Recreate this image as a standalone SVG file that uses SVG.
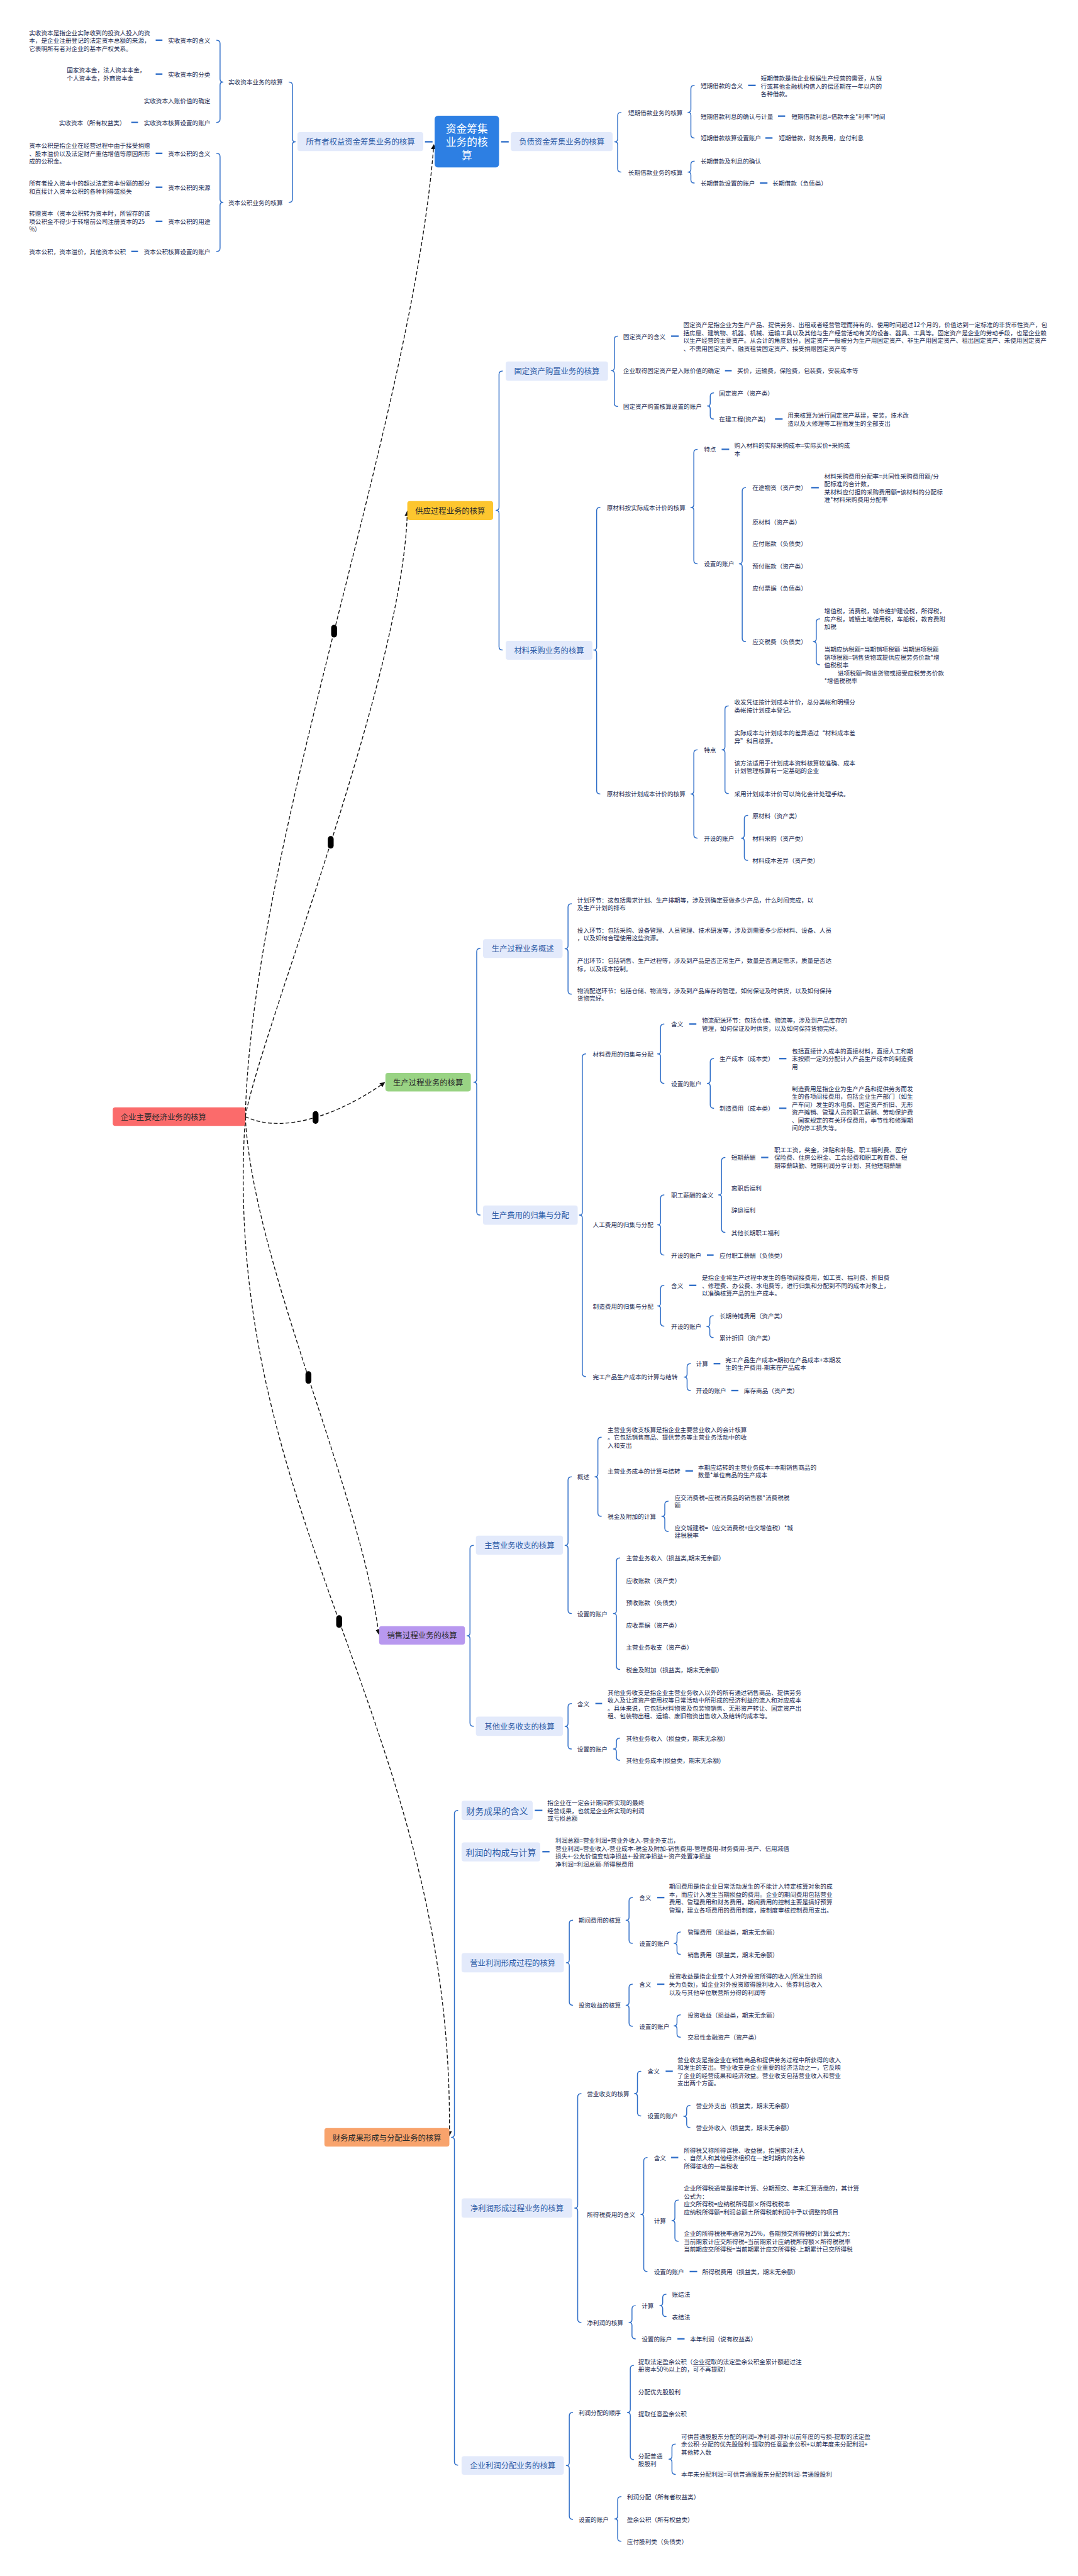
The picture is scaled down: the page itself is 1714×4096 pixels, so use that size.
<svg xmlns="http://www.w3.org/2000/svg" width="1714" height="4096" viewBox="0 0 1714 4096">
<defs>
<style>
text{font-family:"Noto Sans CJK SC","Noto Sans",sans-serif;dominant-baseline:central}
.t{font-size:14.4px;fill:#1c2b52}
.n2{font-size:18.5px;fill:#2c5aa6;text-anchor:middle}
.n2b{font-size:21px;fill:#2c5aa6;text-anchor:middle}
.mn{font-size:18.5px;fill:#2a2a2a;text-anchor:middle}
.wt{font-size:25px;fill:#ffffff;text-anchor:middle}
.bx{fill:#e3eafb}
.br{fill:none;stroke:#2f6ec8;stroke-width:2.2;stroke-linecap:round;stroke-linejoin:round}
.ds{stroke:#2f6ec8;stroke-width:3.5}
.dl{fill:none;stroke:#111;stroke-width:2;stroke-dasharray:9 5}
.pl{fill:#000}
</style>
<marker id="ar" viewBox="0 0 10 10" refX="9" refY="5" markerWidth="6" markerHeight="6" orient="auto" markerUnits="strokeWidth"><path d="M0,0 L10,5 L0,10 z" fill="#111"/></marker>
</defs>
<rect x="0" y="0" width="1714" height="4096" fill="#ffffff"/>
<g transform="scale(0.669)">

<g id="connectors">
<path class="dl" d="M583,2654 C600,2000 980,1000 1031,344" marker-end="url(#ar)"/>
<path class="dl" d="M583,2654 C620,2450 960,1600 968,1215" marker-end="url(#ar)"/>
<path class="dl" d="M583,2654 C680,2700 820,2640 914,2573" marker-end="url(#ar)"/>
<path class="dl" d="M583,2654 C600,3000 860,3550 900,3884" marker-end="url(#ar)"/>
<path class="dl" d="M583,2654 C520,3600 1080,4100 1068,5076" marker-end="url(#ar)"/>
<rect class="pl" x="787" y="1485" width="14" height="30" rx="7"/>
<rect class="pl" x="779" y="1987" width="14" height="30" rx="7"/>
<rect class="pl" x="743" y="2641" width="14" height="30" rx="7"/>
<rect class="pl" x="726" y="3259" width="14" height="30" rx="7"/>
<rect class="pl" x="799" y="3839" width="14" height="30" rx="7"/>

<path class="br" d="M687,195 Q695,195 695,203 V330 Q695,337 702,337 Q695,337 695,344 V473 Q695,481 687,481"/>
<path class="br" d="M515,95.5 Q523,95.5 523,103.5 V188 Q523,195 530,195 Q523,195 523,202 V283 Q523,291 515,291"/>
<path class="br" d="M515,364.5 Q523,364.5 523,372.5 V474 Q523,481 530,481 Q523,481 523,488 V589.6 Q523,597.6 515,597.6"/>
<path class="br" d="M1476,267 Q1468,267 1468,275 V330 Q1468,337 1461,337 Q1468,337 1468,344 V401 Q1468,409 1476,409"/>
<path class="br" d="M1650,203 Q1642,203 1642,211 V260 Q1642,267 1635,267 Q1642,267 1642,274 V320 Q1642,328 1650,328"/>
<path class="br" d="M1650,383 Q1642,383 1642,391 V402 Q1642,409 1635,409 Q1642,409 1642,416 V427 Q1642,435 1650,435"/>
<path class="br" d="M1194,882 Q1186,882 1186,890 V1206 Q1186,1213 1179,1213 Q1186,1213 1186,1220 V1537 Q1186,1545 1194,1545"/>
<path class="br" d="M1468,799 Q1460,799 1460,807 V874 Q1460,881 1453,881 Q1460,881 1460,888 V958 Q1460,966 1468,966"/>
<path class="br" d="M1696,934 Q1688,934 1688,942 V958 Q1688,965 1681,965 Q1688,965 1688,972 V988 Q1688,996 1696,996"/>
<path class="br" d="M1426,1206 Q1418,1206 1418,1214 V1538 Q1418,1545 1411,1545 Q1418,1545 1418,1552 V1879 Q1418,1887 1426,1887"/>
<path class="br" d="M1657,1068 Q1649,1068 1649,1076 V1199 Q1649,1206 1642,1206 Q1649,1206 1649,1213 V1332 Q1649,1340 1657,1340"/>
<path class="br" d="M1772,1159 Q1764,1159 1764,1167 V1333 Q1764,1340 1757,1340 Q1764,1340 1764,1347 V1517 Q1764,1525 1772,1525"/>
<path class="br" d="M1948,1471 Q1940,1471 1940,1479 V1518 Q1940,1525 1933,1525 Q1940,1525 1940,1532 V1572 Q1940,1580 1948,1580"/>
<path class="br" d="M1657,1782 Q1649,1782 1649,1790 V1880 Q1649,1887 1642,1887 Q1649,1887 1649,1894 V1984 Q1649,1992 1657,1992"/>
<path class="br" d="M1731,1678 Q1723,1678 1723,1686 V1775 Q1723,1782 1716,1782 Q1723,1782 1723,1789 V1878 Q1723,1886 1731,1886"/>
<path class="br" d="M1777,1938 Q1769,1938 1769,1946 V1985 Q1769,1992 1762,1992 Q1769,1992 1769,1999 V2037 Q1769,2045 1777,2045"/>
<path class="br" d="M1141,2254 Q1133,2254 1133,2262 V2565 Q1133,2572 1126,2572 Q1133,2572 1133,2579 V2880 Q1133,2888 1141,2888"/>
<path class="br" d="M1358,2148 Q1350,2148 1350,2156 V2248 Q1350,2255 1343,2255 Q1350,2255 1350,2262 V2355 Q1350,2363 1358,2363"/>
<path class="br" d="M1392,2505 Q1384,2505 1384,2513 V2881 Q1384,2888 1377,2888 Q1384,2888 1384,2895 V3264 Q1384,3272 1392,3272"/>
<path class="br" d="M1578,2434 Q1570,2434 1570,2442 V2498 Q1570,2505 1563,2505 Q1570,2505 1570,2512 V2567 Q1570,2575 1578,2575"/>
<path class="br" d="M1696,2516 Q1688,2516 1688,2524 V2568 Q1688,2575 1681,2575 Q1688,2575 1688,2582 V2626 Q1688,2634 1696,2634"/>
<path class="br" d="M1578,2840 Q1570,2840 1570,2848 V2904 Q1570,2911 1563,2911 Q1570,2911 1570,2918 V2975 Q1570,2983 1578,2983"/>
<path class="br" d="M1723,2751 Q1715,2751 1715,2759 V2833 Q1715,2840 1708,2840 Q1715,2840 1715,2847 V2921 Q1715,2929 1723,2929"/>
<path class="br" d="M1578,3055 Q1570,3055 1570,3063 V3097 Q1570,3104 1563,3104 Q1570,3104 1570,3111 V3144 Q1570,3152 1578,3152"/>
<path class="br" d="M1695,3127 Q1687,3127 1687,3135 V3146 Q1687,3153 1680,3153 Q1687,3153 1687,3160 V3171 Q1687,3179 1695,3179"/>
<path class="br" d="M1641,3241 Q1633,3241 1633,3249 V3266 Q1633,3273 1626,3273 Q1633,3273 1633,3280 V3297 Q1633,3305 1641,3305"/>
<path class="br" d="M1125,3673 Q1117,3673 1117,3681 V3881 Q1117,3888 1110,3888 Q1117,3888 1117,3895 V4095 Q1117,4103 1125,4103"/>
<path class="br" d="M1358,3510 Q1350,3510 1350,3518 V3666 Q1350,3673 1343,3673 Q1350,3673 1350,3680 V3827 Q1350,3835 1358,3835"/>
<path class="br" d="M1429,3416 Q1421,3416 1421,3424 V3503 Q1421,3510 1414,3510 Q1421,3510 1421,3517 V3596 Q1421,3604 1429,3604"/>
<path class="br" d="M1588,3568 Q1580,3568 1580,3576 V3597 Q1580,3604 1573,3604 Q1580,3604 1580,3611 V3632 Q1580,3640 1588,3640"/>
<path class="br" d="M1473,3703 Q1465,3703 1465,3711 V3828 Q1465,3835 1458,3835 Q1465,3835 1465,3842 V3960 Q1465,3968 1473,3968"/>
<path class="br" d="M1358,4049 Q1350,4049 1350,4057 V4096 Q1350,4103 1343,4103 Q1350,4103 1350,4110 V4149 Q1350,4157 1358,4157"/>
<path class="br" d="M1473,4131 Q1465,4131 1465,4139 V4150 Q1465,4157 1458,4157 Q1465,4157 1465,4164 V4176 Q1465,4184 1473,4184"/>
<path class="br" d="M1088,4303 Q1080,4303 1080,4311 V5073 Q1080,5080 1073,5080 Q1080,5080 1080,5087 V5851 Q1080,5859 1088,5859"/>
<path class="br" d="M1361,4564 Q1353,4564 1353,4572 V4658 Q1353,4665 1346,4665 Q1353,4665 1353,4672 V4758 Q1353,4766 1361,4766"/>
<path class="br" d="M1503,4510 Q1495,4510 1495,4518 V4557 Q1495,4564 1488,4564 Q1495,4564 1495,4571 V4611 Q1495,4619 1503,4619"/>
<path class="br" d="M1617,4592 Q1609,4592 1609,4600 V4612 Q1609,4619 1602,4619 Q1609,4619 1609,4626 V4637 Q1609,4645 1617,4645"/>
<path class="br" d="M1503,4716 Q1495,4716 1495,4724 V4759 Q1495,4766 1488,4766 Q1495,4766 1495,4773 V4808 Q1495,4816 1503,4816"/>
<path class="br" d="M1617,4789 Q1609,4789 1609,4797 V4808 Q1609,4815 1602,4815 Q1609,4815 1609,4822 V4834 Q1609,4842 1617,4842"/>
<path class="br" d="M1381,4976 Q1373,4976 1373,4984 V5241 Q1373,5248 1366,5248 Q1373,5248 1373,5255 V5512 Q1373,5520 1381,5520"/>
<path class="br" d="M1523,4923 Q1515,4923 1515,4931 V4969 Q1515,4976 1508,4976 Q1515,4976 1515,4983 V5021 Q1515,5029 1523,5029"/>
<path class="br" d="M1640,5004 Q1632,5004 1632,5012 V5023 Q1632,5030 1625,5030 Q1632,5030 1632,5037 V5049 Q1632,5057 1640,5057"/>
<path class="br" d="M1538,5128 Q1530,5128 1530,5136 V5256 Q1530,5263 1523,5263 Q1530,5263 1530,5270 V5391 Q1530,5399 1538,5399"/>
<path class="br" d="M1612,5229 Q1604,5229 1604,5237 V5271 Q1604,5278 1597,5278 Q1604,5278 1604,5285 V5319 Q1604,5327 1612,5327"/>
<path class="br" d="M1510,5480 Q1502,5480 1502,5488 V5513 Q1502,5520 1495,5520 Q1502,5520 1502,5527 V5551 Q1502,5559 1510,5559"/>
<path class="br" d="M1583,5453 Q1575,5453 1575,5461 V5473 Q1575,5480 1568,5480 Q1575,5480 1575,5487 V5498 Q1575,5506 1583,5506"/>
<path class="br" d="M1361,5734 Q1353,5734 1353,5742 V5853 Q1353,5860 1346,5860 Q1353,5860 1353,5867 V5980 Q1353,5988 1361,5988"/>
<path class="br" d="M1506,5622 Q1498,5622 1498,5630 V5727 Q1498,5734 1491,5734 Q1498,5734 1498,5741 V5838 Q1498,5846 1506,5846"/>
<path class="br" d="M1605,5809 Q1597,5809 1597,5817 V5838 Q1597,5845 1590,5845 Q1597,5845 1597,5852 V5873 Q1597,5881 1605,5881"/>
<path class="br" d="M1476,5934 Q1468,5934 1468,5942 V5980 Q1468,5987 1461,5987 Q1468,5987 1468,5994 V6032 Q1468,6040 1476,6040"/>

<line class="ds" x1="1010" y1="337" x2="1028" y2="337"/>
<line class="ds" x1="1191" y1="337" x2="1209" y2="337"/>
<line class="ds" x1="370" y1="95.5" x2="386" y2="95.5"/>
<line class="ds" x1="370" y1="176" x2="386" y2="176"/>
<line class="ds" x1="312" y1="291" x2="328" y2="291"/>
<line class="ds" x1="370" y1="364.5" x2="386" y2="364.5"/>
<line class="ds" x1="370" y1="445" x2="386" y2="445"/>
<line class="ds" x1="370" y1="526" x2="386" y2="526"/>
<line class="ds" x1="312" y1="597.6" x2="328" y2="597.6"/>
<line class="ds" x1="1778" y1="203" x2="1796" y2="203"/>
<line class="ds" x1="1849" y1="276" x2="1866" y2="276"/>
<line class="ds" x1="1819" y1="328" x2="1836" y2="328"/>
<line class="ds" x1="1806" y1="435" x2="1824" y2="435"/>
<line class="ds" x1="1595" y1="799" x2="1613" y2="799"/>
<line class="ds" x1="1723" y1="881" x2="1739" y2="881"/>
<line class="ds" x1="1842" y1="996" x2="1860" y2="996"/>
<line class="ds" x1="1715" y1="1068" x2="1733" y2="1068"/>
<line class="ds" x1="1928" y1="1159" x2="1946" y2="1159"/>
<line class="ds" x1="1638" y1="2434" x2="1655" y2="2434"/>
<line class="ds" x1="1852" y1="2516" x2="1869" y2="2516"/>
<line class="ds" x1="1852" y1="2634" x2="1869" y2="2634"/>
<line class="ds" x1="1809" y1="2751" x2="1826" y2="2751"/>
<line class="ds" x1="1680" y1="2983" x2="1696" y2="2983"/>
<line class="ds" x1="1638" y1="3055" x2="1655" y2="3055"/>
<line class="ds" x1="1696" y1="3241" x2="1712" y2="3241"/>
<line class="ds" x1="1738" y1="3305" x2="1755" y2="3305"/>
<line class="ds" x1="1629" y1="3496" x2="1647" y2="3496"/>
<line class="ds" x1="1415" y1="4049" x2="1431" y2="4049"/>
<line class="ds" x1="1271" y1="4303" x2="1289" y2="4303"/>
<line class="ds" x1="1289" y1="4401" x2="1306" y2="4401"/>
<line class="ds" x1="1562" y1="4510" x2="1579" y2="4510"/>
<line class="ds" x1="1562" y1="4716" x2="1579" y2="4716"/>
<line class="ds" x1="1582" y1="4923" x2="1599" y2="4923"/>
<line class="ds" x1="1595" y1="5128" x2="1612" y2="5128"/>
<line class="ds" x1="1639" y1="5399" x2="1657" y2="5399"/>
<line class="ds" x1="1610" y1="5559" x2="1627" y2="5559"/>
</g>

<g id="root"><rect x="268" y="2632" width="315" height="44" rx="6" fill="#fb6b6b"/><text class="mn" x="287" y="2654" style="text-anchor:start">企业主要经济业务的核算</text></g>
<g id="b-fund"><rect x="1033" y="275" width="153" height="123" rx="8" fill="#2d7fe3"/><text class="wt" x="1109.5" y="305">资金筹集<tspan x="1109.5" dy="31.5">业务的核</tspan><tspan x="1109.5" dy="31.5">算</tspan></text></g>
<g id="b-supply"><rect x="968" y="1191" width="204" height="45" rx="6" fill="#fdc62f"/><text class="mn" x="1070" y="1213.5">供应过程业务的核算</text></g>
<g id="b-prod"><rect x="916" y="2550" width="203" height="44" rx="6" fill="#99d384"/><text class="mn" x="1017.5" y="2572">生产过程业务的核算</text></g>
<g id="b-sales"><rect x="901" y="3865" width="204" height="44" rx="6" fill="#b898ef"/><text class="mn" x="1003" y="3887">销售过程业务的核算</text></g>
<g id="b-fin"><rect x="771" y="5058" width="297" height="44" rx="6" fill="#f8a36c"/><text class="mn" x="919.5" y="5080">财务成果形成与分配业务的核算</text></g>

<g id="n-owner"><rect class="bx" x="707" y="314" width="299" height="45" rx="6"/><text class="n2" x="856.5" y="337">所有者权益资金筹集业务的核算</text></g>
<g id="n-ss"><text class="t" x="672" y="195" style="text-anchor:end">实收资本业务的核算</text></g>
<g id="n-zb"><text class="t" x="672" y="481" style="text-anchor:end">资本公积业务的核算</text></g>
<g id="n-ss1"><text class="t" x="500" y="95.5" style="text-anchor:end">实收资本的含义</text></g>
<g id="n-ss1a"><text class="t" x="69" y="77">实收资本是指企业实际收到的投资人投入的资<tspan x="69" dy="18.7">本，是企业注册登记的法定资本总额的来源，</tspan><tspan x="69" dy="18.7">它表明所有者对企业的基本产权关系。</tspan></text></g>
<g id="n-ss2"><text class="t" x="500" y="176" style="text-anchor:end">实收资本的分类</text></g>
<g id="n-ss2a"><text class="t" x="159" y="166.6">国家资本金，法人资本本金，<tspan x="159" dy="18.7">个人资本金，外商资本金</tspan></text></g>
<g id="n-ss3"><text class="t" x="500" y="239" style="text-anchor:end">实收资本入账价值的确定</text></g>
<g id="n-ss4"><text class="t" x="500" y="291" style="text-anchor:end">实收资本核算设置的账户</text></g>
<g id="n-ss4a"><text class="t" x="140" y="291">实收资本（所有权益类）</text></g>
<g id="n-zb1"><text class="t" x="500" y="364.5" style="text-anchor:end">资本公积的含义</text></g>
<g id="n-zb1a"><text class="t" x="69" y="346">资本公积是指企业在经营过程中由于接受捐赠<tspan x="69" dy="18.7">、股本溢价以及法定财产重估增值等原因所形</tspan><tspan x="69" dy="18.7">成的公积金。</tspan></text></g>
<g id="n-zb2"><text class="t" x="500" y="445" style="text-anchor:end">资本公积的来源</text></g>
<g id="n-zb2a"><text class="t" x="69" y="435.6">所有者投入资本中的超过法定资本份额的部分<tspan x="69" dy="18.7">和直接计入资本公积的各种利得或损失</tspan></text></g>
<g id="n-zb3"><text class="t" x="500" y="526" style="text-anchor:end">资本公积的用途</text></g>
<g id="n-zb3a"><text class="t" x="69" y="507.3">转赠资本（资本公积转为资本时，所留存的该<tspan x="69" dy="18.7">项公积金不得少于转增前公司注册资本的25</tspan><tspan x="69" dy="18.7">%）</tspan></text></g>
<g id="n-zb4"><text class="t" x="500" y="597.6" style="text-anchor:end">资本公积核算设置的账户</text></g>
<g id="n-zb4a"><text class="t" x="69" y="597.6">资本公积，资本溢价，其他资本公积</text></g>

<g id="n-debt"><rect class="bx" x="1214" y="314" width="242" height="45" rx="6"/><text class="n2" x="1335" y="337">负债资金筹集业务的核算</text></g>
<g id="n-st"><text class="t" x="1493" y="267">短期借款业务的核算</text></g>
<g id="n-lt"><text class="t" x="1493" y="409">长期借款业务的核算</text></g>
<g id="n-st1"><text class="t" x="1665" y="203">短期借款的含义</text></g>
<g id="n-st1a"><text class="t" x="1808" y="185.6">短期借款是指企业根据生产经营的需要，从银<tspan x="1808" dy="18.7">行或其他金融机构借入的偿还期在一年以内的</tspan><tspan x="1808" dy="18.7">各种借款。</tspan></text></g>
<g id="n-st2"><text class="t" x="1665" y="276">短期借款利息的确认与计量</text></g>
<g id="n-st2a"><text class="t" x="1881" y="276">短期借款利息=借款本金*利率*时间</text></g>
<g id="n-st3"><text class="t" x="1665" y="328">短期借款核算设置账户</text></g>
<g id="n-st3a"><text class="t" x="1851" y="328">短期借款，财务费用，应付利息</text></g>
<g id="n-lt1"><text class="t" x="1665" y="383">长期借款及利息的确认</text></g>
<g id="n-lt2"><text class="t" x="1665" y="435">长期借款设置的账户</text></g>
<g id="n-lt2a"><text class="t" x="1836" y="435">长期借款（负债类）</text></g>

<g id="n-fa"><rect class="bx" x="1202" y="859" width="243" height="46" rx="6"/><text class="n2" x="1323.5" y="882">固定资产购置业务的核算</text></g>
<g id="n-fa1"><text class="t" x="1481" y="799">固定资产的含义</text></g>
<g id="n-fa1a"><text class="t" x="1624" y="772">固定资产是指企业为生产产品、提供劳务、出租或者经营管理而持有的、使用时间超过12个月的，价值达到一定标准的非货币性资产，包<tspan x="1624" dy="18.7">括房屋、建筑物、机器、机械、运输工具以及其他与生产经营活动有关的设备、器具、工具等。固定资产是企业的劳动手段，也是企业赖</tspan><tspan x="1624" dy="18.7">以生产经营的主要资产。从会计的角度划分，固定资产一般被分为生产用固定资产、非生产用固定资产、租出固定资产、未使用固定资产</tspan><tspan x="1624" dy="18.7">、不需用固定资产、融资租赁固定资产、接受捐赠固定资产等</tspan></text></g>
<g id="n-fa2"><text class="t" x="1481" y="881">企业取得固定资产是入账价值的确定</text></g>
<g id="n-fa2a"><text class="t" x="1752" y="881">买价，运输费，保险费，包装费，安装成本等</text></g>
<g id="n-fa3"><text class="t" x="1481" y="966">固定资产购置核算设置的账户</text></g>
<g id="n-fa3a"><text class="t" x="1709" y="934">固定资产（资产类）</text></g>
<g id="n-fa3b"><text class="t" x="1709" y="996">在建工程(资产类)</text></g>
<g id="n-fa3b1"><text class="t" x="1872" y="986.6">用来核算为进行固定资产基建，安装，技术改<tspan x="1872" dy="18.7">造以及大修理等工程而发生的全部支出</tspan></text></g>

<g id="n-mat"><rect class="bx" x="1202" y="1523" width="206" height="45" rx="6"/><text class="n2" x="1305" y="1545.5">材料采购业务的核算</text></g>
<g id="n-ac"><text class="t" x="1442" y="1206">原材料按实际成本计价的核算</text></g>
<g id="n-ac1"><text class="t" x="1673" y="1068">特点</text></g>
<g id="n-ac1a"><text class="t" x="1745" y="1058.6">购入材料的实际采购成本=实际买价+采购成<tspan x="1745" dy="18.7">本</tspan></text></g>
<g id="n-ac2"><text class="t" x="1673" y="1340">设置的账户</text></g>
<g id="n-ac2a"><text class="t" x="1788" y="1159">在途物资（资产类）</text></g>
<g id="n-ac2a1"><text class="t" x="1959" y="1131">材料采购费用分配率=共同性采购费用额/分<tspan x="1959" dy="18.7">配标准的合计数，</tspan><tspan x="1959" dy="18.7">某材料应付担的采购费用额=该材料的分配标</tspan><tspan x="1959" dy="18.7">准*材料采购费用分配率</tspan></text></g>
<g id="n-ac2b"><text class="t" x="1788" y="1240">原材料（资产类）</text></g>
<g id="n-ac2c"><text class="t" x="1788" y="1292">应付账款（负债类）</text></g>
<g id="n-ac2d"><text class="t" x="1788" y="1345">预付账款（资产类）</text></g>
<g id="n-ac2e"><text class="t" x="1788" y="1398">应付票据（负债类）</text></g>
<g id="n-ac2f"><text class="t" x="1788" y="1525">应交税费（负债类）</text></g>
<g id="n-ac2f1"><text class="t" x="1959" y="1452">增值税，消费税，城市维护建设税，所得税，<tspan x="1959" dy="18.7">房产税，城镇土地使用税，车船税，教育费附</tspan><tspan x="1959" dy="18.7">加税</tspan></text></g>
<g id="n-ac2f2"><text class="t" x="1959" y="1542.6">当期应纳税额=当期销项税额-当期进项税额<tspan x="1959" dy="18.7">销项税额=销售货物或提供应税劳务价款*增</tspan><tspan x="1959" dy="18.7">值税税率</tspan><tspan x="1991" dy="18.7">进项税额=购进货物或接受应税劳务价款</tspan><tspan x="1959" dy="18.7">*增值税税率</tspan></text></g>
<g id="n-pc"><text class="t" x="1442" y="1887">原材料按计划成本计价的核算</text></g>
<g id="n-pc1"><text class="t" x="1673" y="1782">特点</text></g>
<g id="n-pc1a"><text class="t" x="1745" y="1668.6">收发凭证按计划成本计价，总分类帐和明细分<tspan x="1745" dy="18.7">类帐按计划成本登记。</tspan></text></g>
<g id="n-pc1b"><text class="t" x="1745" y="1741.6">实际成本与计划成本的差异通过“材料成本差<tspan x="1745" dy="18.7">异”科目核算。</tspan></text></g>
<g id="n-pc1c"><text class="t" x="1745" y="1812.6">该方法适用于计划成本资料核算较准确、成本<tspan x="1745" dy="18.7">计划管理核算有一定基础的企业</tspan></text></g>
<g id="n-pc1d"><text class="t" x="1745" y="1886">采用计划成本计价可以简化会计处理手续。</text></g>
<g id="n-pc2"><text class="t" x="1673" y="1992">开设的账户</text></g>
<g id="n-pc2a"><text class="t" x="1788" y="1938">原材料（资产类）</text></g>
<g id="n-pc2b"><text class="t" x="1788" y="1992">材料采购（资产类）</text></g>
<g id="n-pc2c"><text class="t" x="1788" y="2045">材料成本差异（资产类）</text></g>

<g id="n-po"><rect class="bx" x="1148" y="2232" width="189" height="45" rx="6"/><text class="n2" x="1242.5" y="2254.5">生产过程业务概述</text></g>
<g id="n-po1"><text class="t" x="1372" y="2138.6">计划环节：这包括需求计划、生产排期等，涉及到确定要做多少产品，什么时间完成，以<tspan x="1372" dy="18.7">及生产计划的排布</tspan></text></g>
<g id="n-po2"><text class="t" x="1372" y="2210.6">投入环节：包括采购、设备管理、人员管理、技术研发等，涉及到需要多少原材料、设备、人员<tspan x="1372" dy="18.7">，以及如何合理使用这些资源。</tspan></text></g>
<g id="n-po3"><text class="t" x="1372" y="2282.6">产出环节：包括销售、生产过程等，涉及到产品是否正常生产，数量是否满足需求，质量是否达<tspan x="1372" dy="18.7">标，以及成本控制。</tspan></text></g>
<g id="n-po4"><text class="t" x="1372" y="2353.6">物流配送环节：包括仓储、物流等，涉及到产品库存的管理，如何保证及时供货，以及如何保持<tspan x="1372" dy="18.7">货物完好。</tspan></text></g>
<g id="n-pf"><rect class="bx" x="1148" y="2865" width="225" height="46" rx="6"/><text class="n2" x="1260.5" y="2888">生产费用的归集与分配</text></g>
<g id="n-mf"><text class="t" x="1409" y="2505">材料费用的归集与分配</text></g>
<g id="n-mf1"><text class="t" x="1595" y="2434">含义</text></g>
<g id="n-mf1a"><text class="t" x="1668" y="2424.6">物流配送环节：包括仓储、物流等，涉及到产品库存的<tspan x="1668" dy="18.7">管理，如何保证及时供货，以及如何保持货物完好。</tspan></text></g>
<g id="n-mf2"><text class="t" x="1595" y="2575">设置的账户</text></g>
<g id="n-mf2a"><text class="t" x="1710" y="2516">生产成本（成本类）</text></g>
<g id="n-mf2a1"><text class="t" x="1882" y="2497.3">包括直接计入成本的直接材料，直接人工和期<tspan x="1882" dy="18.7">末按照一定的分配计入产品生产成本的制造费</tspan><tspan x="1882" dy="18.7">用</tspan></text></g>
<g id="n-mf2b"><text class="t" x="1710" y="2634">制造费用（成本类）</text></g>
<g id="n-mf2b1"><text class="t" x="1882" y="2587.3">制造费用是指企业为生产产品和提供劳务而发<tspan x="1882" dy="18.7">生的各项间接费用，包括企业生产部门（如生</tspan><tspan x="1882" dy="18.7">产车间）发生的水电费、固定资产折旧、无形</tspan><tspan x="1882" dy="18.7">资产摊销、管理人员的职工薪酬、劳动保护费</tspan><tspan x="1882" dy="18.7">、国家规定的有关环保费用，季节性和修理期</tspan><tspan x="1882" dy="18.7">间的停工损失等。</tspan></text></g>
<g id="n-lf"><text class="t" x="1409" y="2911">人工费用的归集与分配</text></g>
<g id="n-lf1"><text class="t" x="1595" y="2840">职工薪酬的含义</text></g>
<g id="n-lf1a"><text class="t" x="1738" y="2751">短期薪酬</text></g>
<g id="n-lf1a1"><text class="t" x="1840" y="2732.3">职工工资，奖金，津贴和补贴、职工福利费、医疗<tspan x="1840" dy="18.7">保险费、住房公积金、工会经费和职工教育费、短</tspan><tspan x="1840" dy="18.7">期带薪缺勤、短期利润分享计划、其他短期薪酬</tspan></text></g>
<g id="n-lf1b"><text class="t" x="1738" y="2823">离职后福利</text></g>
<g id="n-lf1c"><text class="t" x="1738" y="2876">辞退福利</text></g>
<g id="n-lf1d"><text class="t" x="1738" y="2929">其他长期职工福利</text></g>
<g id="n-lf2"><text class="t" x="1595" y="2983">开设的账户</text></g>
<g id="n-lf2a"><text class="t" x="1710" y="2983">应付职工薪酬（负债类）</text></g>
<g id="n-of"><text class="t" x="1409" y="3104">制造费用的归集与分配</text></g>
<g id="n-of1"><text class="t" x="1595" y="3055">含义</text></g>
<g id="n-of1a"><text class="t" x="1668" y="3036.3">是指企业将生产过程中发生的各项间接费用，如工资、福利费、折旧费<tspan x="1668" dy="18.7">、修理费、办公费、水电费等，进行归集和分配到不同的成本对象上，</tspan><tspan x="1668" dy="18.7">以准确核算产品的生产成本。</tspan></text></g>
<g id="n-of2"><text class="t" x="1595" y="3152">开设的账户</text></g>
<g id="n-of2a"><text class="t" x="1710" y="3127">长期待摊费用（资产类）</text></g>
<g id="n-of2b"><text class="t" x="1710" y="3179">累计折旧（资产类）</text></g>
<g id="n-fp"><text class="t" x="1409" y="3272">完工产品生产成本的计算与结转</text></g>
<g id="n-fp1"><text class="t" x="1654" y="3241">计算</text></g>
<g id="n-fp1a"><text class="t" x="1724" y="3231.6">完工产品生产成本=期初在产品成本+本期发<tspan x="1724" dy="18.7">生的生产费用-期末在产品成本</tspan></text></g>
<g id="n-fp2"><text class="t" x="1654" y="3305">开设的账户</text></g>
<g id="n-fp2a"><text class="t" x="1768" y="3305">库存商品（资产类）</text></g>

<g id="n-main"><rect class="bx" x="1131" y="3650" width="207" height="45" rx="6"/><text class="n2" x="1234.5" y="3673">主营业务收支的核算</text></g>
<g id="n-m1"><text class="t" x="1372" y="3510">概述</text></g>
<g id="n-m1a"><text class="t" x="1444" y="3397.3">主营业务收支核算是指企业主要营业收入的会计核算<tspan x="1444" dy="18.7">。它包括销售商品、提供劳务等主营业务活动中的收</tspan><tspan x="1444" dy="18.7">入和支出</tspan></text></g>
<g id="n-m1b"><text class="t" x="1444" y="3496">主营业务成本的计算与结转</text></g>
<g id="n-m1b1"><text class="t" x="1659" y="3486.6">本期应结转的主营业务成本=本期销售商品的<tspan x="1659" dy="18.7">数量*单位商品的生产成本</tspan></text></g>
<g id="n-m1c"><text class="t" x="1444" y="3604">税金及附加的计算</text></g>
<g id="n-m1c1"><text class="t" x="1603" y="3558.6">应交消费税=应税消费品的销售额*消费税税<tspan x="1603" dy="18.7">额</tspan></text></g>
<g id="n-m1c2"><text class="t" x="1603" y="3630.6">应交城建税=（应交消费税+应交增值税）*城<tspan x="1603" dy="18.7">建税税率</tspan></text></g>
<g id="n-m2"><text class="t" x="1372" y="3835">设置的账户</text></g>
<g id="n-m2a"><text class="t" x="1488" y="3703">主营业务收入（损益类,期末无余额）</text></g>
<g id="n-m2b"><text class="t" x="1488" y="3756">应收账款（资产类）</text></g>
<g id="n-m2c"><text class="t" x="1488" y="3809">预收账款（负债类）</text></g>
<g id="n-m2d"><text class="t" x="1488" y="3862">应收票据（资产类）</text></g>
<g id="n-m2e"><text class="t" x="1488" y="3915">主营业务收支（资产类）</text></g>
<g id="n-m2f"><text class="t" x="1488" y="3968">税金及附加（损益类，期末无余额）</text></g>
<g id="n-oth"><rect class="bx" x="1131" y="4080" width="207" height="46" rx="6"/><text class="n2" x="1234.5" y="4103">其他业务收支的核算</text></g>
<g id="n-o1"><text class="t" x="1372" y="4049">含义</text></g>
<g id="n-o1a"><text class="t" x="1444" y="4022">其他业务收支是指企业主营业务收入以外的所有通过销售商品、提供劳务<tspan x="1444" dy="18.7">收入及让渡资产使用权等日常活动中所形成的经济利益的流入和对应成本</tspan><tspan x="1444" dy="18.7">。具体来说，它包括材料物资及包装物销售、无形资产转让、固定资产出</tspan><tspan x="1444" dy="18.7">租、包装物出租、运输、废旧物资出售收入及结转的成本等。</tspan></text></g>
<g id="n-o2"><text class="t" x="1372" y="4157">设置的账户</text></g>
<g id="n-o2a"><text class="t" x="1488" y="4131">其他业务收入（损益类，期末无余额）</text></g>
<g id="n-o2b"><text class="t" x="1488" y="4184">其他业务成本(损益类，期末无余额)</text></g>

<g id="n-fm"><rect class="bx" x="1097" y="4280" width="169" height="46" rx="6"/><text class="n2b" x="1181.5" y="4303">财务成果的含义</text></g>
<g id="n-fm1"><text class="t" x="1301" y="4284.3">指企业在一定会计期间所实现的最终<tspan x="1301" dy="18.7">经营成果，也就是企业所实现的利润</tspan><tspan x="1301" dy="18.7">或亏损总额</tspan></text></g>
<g id="n-pr"><rect class="bx" x="1097" y="4379" width="187" height="45" rx="6"/><text class="n2b" x="1190.5" y="4401.5">利润的构成与计算</text></g>
<g id="n-pr1"><text class="t" x="1320" y="4374">利润总额=营业利润+营业外收入-营业外支出，<tspan x="1320" dy="18.7">营业利润=营业收入-营业成本-税金及附加-销售费用-管理费用-财务费用-资产、信用减值</tspan><tspan x="1320" dy="18.7">损失+-公允价值变动净损益+-投资净损益+-资产处置净损益</tspan><tspan x="1320" dy="18.7">净利润=利润总额-所得税费用</tspan></text></g>
<g id="n-op"><rect class="bx" x="1097" y="4642" width="243" height="46" rx="6"/><text class="n2" x="1218.5" y="4665">营业利润形成过程的核算</text></g>
<g id="n-pe"><text class="t" x="1375" y="4564">期间费用的核算</text></g>
<g id="n-pe1"><text class="t" x="1519" y="4510">含义</text></g>
<g id="n-pe1a"><text class="t" x="1590" y="4483">期间费用是指企业日常活动发生的不能计入特定核算对象的成<tspan x="1590" dy="18.7">本，而应计入发生当期损益的费用。企业的期间费用包括营业</tspan><tspan x="1590" dy="18.7">费用、管理费用和财务费用。期间费用的控制主要是搞好预算</tspan><tspan x="1590" dy="18.7">管理，建立各项费用的费用制度，按制度审核控制费用支出。</tspan></text></g>
<g id="n-pe2"><text class="t" x="1519" y="4619">设置的账户</text></g>
<g id="n-pe2a"><text class="t" x="1634" y="4592">管理费用（损益类，期末无余额）</text></g>
<g id="n-pe2b"><text class="t" x="1634" y="4645">销售费用（损益类，期末无余额）</text></g>
<g id="n-iv"><text class="t" x="1375" y="4766">投资收益的核算</text></g>
<g id="n-iv1"><text class="t" x="1519" y="4716">含义</text></g>
<g id="n-iv1a"><text class="t" x="1590" y="4697.3">投资收益是指企业或个人对外投资所得的收入(所发生的损<tspan x="1590" dy="18.7">失为负数)，如企业对外投资取得股利收入、债券利息收入</tspan><tspan x="1590" dy="18.7">以及与其他单位联营所分得的利润等</tspan></text></g>
<g id="n-iv2"><text class="t" x="1519" y="4816">设置的账户</text></g>
<g id="n-iv2a"><text class="t" x="1634" y="4789">投资收益（损益类，期末无余额）</text></g>
<g id="n-iv2b"><text class="t" x="1634" y="4842">交易性金融资产（资产类）</text></g>
<g id="n-np"><rect class="bx" x="1097" y="5225" width="263" height="46" rx="6"/><text class="n2" x="1228.5" y="5248">净利润形成过程业务的核算</text></g>
<g id="n-ie"><text class="t" x="1395" y="4976">营业收支的核算</text></g>
<g id="n-ie1"><text class="t" x="1539" y="4923">含义</text></g>
<g id="n-ie1a"><text class="t" x="1610" y="4895">营业收支是指企业在销售商品和提供劳务过程中所获得的收入<tspan x="1610" dy="18.7">和发生的支出。营业收支是企业重要的经济活动之一，它反映</tspan><tspan x="1610" dy="18.7">了企业的经营成果和经济效益。营业收支包括营业收入和营业</tspan><tspan x="1610" dy="18.7">支出两个方面。</tspan></text></g>
<g id="n-ie2"><text class="t" x="1539" y="5029">设置的账户</text></g>
<g id="n-ie2a"><text class="t" x="1654" y="5004">营业外支出（损益类，期末无余额）</text></g>
<g id="n-ie2b"><text class="t" x="1654" y="5057">营业外收入（损益类，期末无余额）</text></g>
<g id="n-tx"><text class="t" x="1395" y="5263">所得税费用的含义</text></g>
<g id="n-tx1"><text class="t" x="1554" y="5128">含义</text></g>
<g id="n-tx1a"><text class="t" x="1625" y="5110.3">所得税又称所得课税、收益税，指国家对法人<tspan x="1625" dy="18.7">、自然人和其他经济组织在一定时期内的各种</tspan><tspan x="1625" dy="18.7">所得征收的一类税收</tspan></text></g>
<g id="n-tx2"><text class="t" x="1554" y="5278">计算</text></g>
<g id="n-tx2a"><text class="t" x="1625" y="5201">企业所得税通常是按年计算、分期预交、年末汇算清缴的，其计算<tspan x="1625" dy="18.7">公式为：</tspan><tspan x="1625" dy="18.7">应交所得税=应纳税所得额×所得税税率</tspan><tspan x="1625" dy="18.7">应纳税所得额=利润总额±所得税前利润中予以调整的项目</tspan></text></g>
<g id="n-tx2b"><text class="t" x="1625" y="5308.3">企业的所得税税率通常为25%，各期预交所得税的计算公式为：<tspan x="1625" dy="18.7">当前期累计应交所得税=当前期累计应纳税所得额×所得税税率</tspan><tspan x="1625" dy="18.7">当前期应交所得税=当前期累计应交所得税-上期累计已交所得税</tspan></text></g>
<g id="n-tx3"><text class="t" x="1554" y="5399">设置的账户</text></g>
<g id="n-tx3a"><text class="t" x="1669" y="5399">所得税费用（损益类，期末无余额）</text></g>
<g id="n-ni"><text class="t" x="1395" y="5520">净利润的核算</text></g>
<g id="n-ni1"><text class="t" x="1525" y="5480">计算</text></g>
<g id="n-ni1a"><text class="t" x="1597" y="5453">账结法</text></g>
<g id="n-ni1b"><text class="t" x="1597" y="5506">表结法</text></g>
<g id="n-ni2"><text class="t" x="1525" y="5559">设置的账户</text></g>
<g id="n-ni2a"><text class="t" x="1640" y="5559">本年利润（说有权益类）</text></g>
<g id="n-pd"><rect class="bx" x="1097" y="5838" width="243" height="44" rx="6"/><text class="n2" x="1218.5" y="5860">企业利润分配业务的核算</text></g>
<g id="n-pd1"><text class="t" x="1375" y="5734">利润分配的顺序</text></g>
<g id="n-pd1a"><text class="t" x="1517" y="5612.6">提取法定盈余公积（企业提取的法定盈余公积金累计额超过注<tspan x="1517" dy="18.7">册资本50%以上的，可不再提取）</tspan></text></g>
<g id="n-pd1b"><text class="t" x="1517" y="5684">分配优先股股利</text></g>
<g id="n-pd1c"><text class="t" x="1517" y="5737">提取任意盈余公积</text></g>
<g id="n-pd1d"><text class="t" x="1517" y="5836.6">分配普通<tspan x="1517" dy="18.7">股股利</tspan></text></g>
<g id="n-pd1d1"><text class="t" x="1619" y="5790.3">可供普通股股东分配的利润=净利润-弥补以前年度的亏损-提取的法定盈<tspan x="1619" dy="18.7">余公积-分配的优先股股利-提取的任意盈余公积+以前年度未分配利润+</tspan><tspan x="1619" dy="18.7">其他转入数</tspan></text></g>
<g id="n-pd1d2"><text class="t" x="1619" y="5881">本年未分配利润=可供普通股股东分配的利润-普通股股利</text></g>
<g id="n-pd2"><text class="t" x="1375" y="5988">设置的账户</text></g>
<g id="n-pd2a"><text class="t" x="1490" y="5934">利润分配（所有者权益类）</text></g>
<g id="n-pd2b"><text class="t" x="1490" y="5988">盈余公积（所有权益类）</text></g>
<g id="n-pd2c"><text class="t" x="1490" y="6040">应付股利类（负债类）</text></g>
</g>
</svg>
